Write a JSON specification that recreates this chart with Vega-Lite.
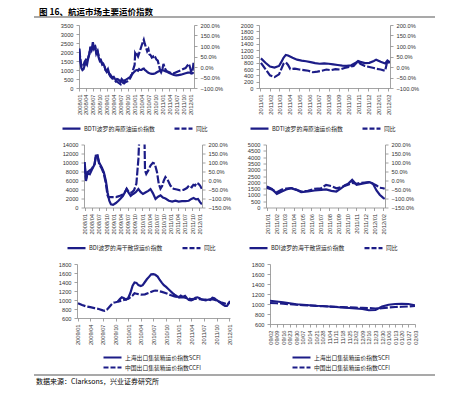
{
"$schema": "https://vega.github.io/schema/vega-lite/v6.json",
"background": "white",
"padding": {"left": 33, "top": 3, "right": 0, "bottom": 0},
"config": {
 "view": {"stroke": null},
 "font": "Liberation Sans",
 "axis": {"labelFont": "Liberation Sans", "labelFontSize": 5.7, "labelColor": "#333333", "domainColor": "#8c8c8c", "domainWidth": 0.8, "tickColor": "#8c8c8c", "tickWidth": 0.8, "tickSize": 3, "labelPadding": 3, "grid": false, "labelOverlap": false, "labelFlush": false},
 "legend": {"layout": {"bottom": {"anchor": "middle"}}}
},
"datasets": {
 "p1v": [{"d":"2008/01/04","v":2200},{"d":"2008/01/18","v":1500},{"d":"2008/02/01","v":1100},{"d":"2008/02/15","v":1000},{"d":"2008/03/01","v":1050},{"d":"2008/03/15","v":1250},{"d":"2008/04/01","v":1400},{"d":"2008/04/15","v":1300},{"d":"2008/05/01","v":1650},{"d":"2008/05/15","v":1900},{"d":"2008/06/01","v":2300},{"d":"2008/06/15","v":2100},{"d":"2008/07/01","v":2550},{"d":"2008/07/15","v":2250},{"d":"2008/08/01","v":2300},{"d":"2008/08/15","v":1900},{"d":"2008/09/01","v":2050},{"d":"2008/09/15","v":1700},{"d":"2008/10/01","v":1500},{"d":"2008/10/15","v":1550},{"d":"2008/11/01","v":1300},{"d":"2008/11/15","v":1350},{"d":"2008/12/01","v":1200},{"d":"2008/12/15","v":1000},{"d":"2009/01/01","v":950},{"d":"2009/01/15","v":1050},{"d":"2009/02/01","v":800},{"d":"2009/02/15","v":750},{"d":"2009/03/01","v":650},{"d":"2009/03/15","v":600},{"d":"2009/04/01","v":620},{"d":"2009/04/15","v":520},{"d":"2009/05/01","v":450},{"d":"2009/05/15","v":500},{"d":"2009/06/01","v":480},{"d":"2009/06/15","v":420},{"d":"2009/07/01","v":350},{"d":"2009/07/15","v":500},{"d":"2009/08/01","v":420},{"d":"2009/08/15","v":380},{"d":"2009/09/01","v":450},{"d":"2009/09/15","v":480},{"d":"2009/10/01","v":520},{"d":"2009/10/15","v":560},{"d":"2009/11/01","v":600},{"d":"2009/11/15","v":700},{"d":"2009/12/01","v":780},{"d":"2009/12/15","v":850},{"d":"2010/01/01","v":920},{"d":"2010/01/15","v":980},{"d":"2010/02/01","v":1000},{"d":"2010/02/15","v":960},{"d":"2010/03/01","v":1050},{"d":"2010/03/15","v":1000},{"d":"2010/04/01","v":1000},{"d":"2010/04/15","v":1060},{"d":"2010/05/01","v":1080},{"d":"2010/05/15","v":1000},{"d":"2010/06/01","v":950},{"d":"2010/06/15","v":900},{"d":"2010/07/01","v":850},{"d":"2010/07/15","v":820},{"d":"2010/08/01","v":800},{"d":"2010/08/15","v":780},{"d":"2010/09/01","v":780},{"d":"2010/09/15","v":800},{"d":"2010/10/01","v":820},{"d":"2010/10/15","v":860},{"d":"2010/11/01","v":900},{"d":"2010/11/15","v":930},{"d":"2010/12/01","v":950},{"d":"2010/12/15","v":980},{"d":"2011/01/01","v":1000},{"d":"2011/01/15","v":970},{"d":"2011/02/01","v":950},{"d":"2011/02/15","v":920},{"d":"2011/03/01","v":900},{"d":"2011/04/01","v":830},{"d":"2011/05/01","v":780},{"d":"2011/06/01","v":720},{"d":"2011/07/01","v":700},{"d":"2011/08/01","v":720},{"d":"2011/09/01","v":740},{"d":"2011/10/01","v":780},{"d":"2011/11/01","v":820},{"d":"2011/12/01","v":850},{"d":"2012/01/01","v":860},{"d":"2012/01/15","v":800},{"d":"2012/02/01","v":820},{"d":"2012/02/15","v":880}],
 "p1p": [{"d":"2008/01/04","p":85},{"d":"2008/01/18","p":40},{"d":"2008/02/01","p":5},{"d":"2008/02/15","p":0},{"d":"2008/03/01","p":10},{"d":"2008/03/15","p":25},{"d":"2008/04/01","p":35},{"d":"2008/04/15","p":30},{"d":"2008/05/01","p":45},{"d":"2008/05/15","p":60},{"d":"2008/06/01","p":95},{"d":"2008/06/15","p":80},{"d":"2008/07/01","p":100},{"d":"2008/07/15","p":85},{"d":"2008/08/01","p":95},{"d":"2008/08/15","p":70},{"d":"2008/09/01","p":75},{"d":"2008/09/15","p":55},{"d":"2008/10/01","p":35},{"d":"2008/10/15","p":30},{"d":"2008/11/01","p":15},{"d":"2008/11/15","p":10},{"d":"2008/12/01","p":5},{"d":"2008/12/15","p":-15},{"d":"2009/01/01","p":-25},{"d":"2009/01/15","p":-20},{"d":"2009/02/01","p":-35},{"d":"2009/02/15","p":-45},{"d":"2009/03/01","p":-50},{"d":"2009/03/15","p":-55},{"d":"2009/04/01","p":-55},{"d":"2009/04/15","p":-62},{"d":"2009/05/01","p":-70},{"d":"2009/05/15","p":-68},{"d":"2009/06/01","p":-75},{"d":"2009/06/15","p":-78},{"d":"2009/07/01","p":-82},{"d":"2009/07/15","p":-70},{"d":"2009/08/01","p":-75},{"d":"2009/08/15","p":-78},{"d":"2009/09/01","p":-72},{"d":"2009/09/15","p":-70},{"d":"2009/10/01","p":-68},{"d":"2009/10/15","p":-65},{"d":"2009/11/01","p":-55},{"d":"2009/11/15","p":-45},{"d":"2009/12/01","p":-30},{"d":"2009/12/15","p":-10},{"d":"2010/01/01","p":10},{"d":"2010/01/08","p":65},{"d":"2010/01/22","p":55},{"d":"2010/02/01","p":60},{"d":"2010/02/15","p":50},{"d":"2010/03/01","p":65},{"d":"2010/03/15","p":80},{"d":"2010/04/01","p":100},{"d":"2010/04/15","p":115},{"d":"2010/05/01","p":130},{"d":"2010/05/15","p":110},{"d":"2010/06/01","p":90},{"d":"2010/06/15","p":75},{"d":"2010/07/01","p":85},{"d":"2010/07/15","p":60},{"d":"2010/08/01","p":55},{"d":"2010/08/15","p":45},{"d":"2010/09/01","p":50},{"d":"2010/09/15","p":40},{"d":"2010/10/01","p":45},{"d":"2010/10/15","p":35},{"d":"2010/11/01","p":30},{"d":"2010/11/15","p":10},{"d":"2010/12/01","p":-15},{"d":"2010/12/15","p":-25},{"d":"2011/01/01","p":-10},{"d":"2011/01/15","p":15},{"d":"2011/02/01","p":-5},{"d":"2011/02/15","p":-15},{"d":"2011/03/01","p":-20},{"d":"2011/04/01","p":-25},{"d":"2011/05/01","p":-30},{"d":"2011/06/01","p":-30},{"d":"2011/07/01","p":-25},{"d":"2011/08/01","p":-20},{"d":"2011/09/01","p":-15},{"d":"2011/10/01","p":-10},{"d":"2011/11/01","p":-5},{"d":"2011/12/01","p":10},{"d":"2011/12/15","p":15},{"d":"2012/01/01","p":-5},{"d":"2012/01/15","p":-25},{"d":"2012/02/01","p":-20},{"d":"2012/02/15","p":25}],
 "p2v": [{"d":"2011/01/03","v":940},{"d":"2011/01/17","v":800},{"d":"2011/01/31","v":680},{"d":"2011/02/14","v":650},{"d":"2011/02/28","v":700},{"d":"2011/03/07","v":820},{"d":"2011/03/14","v":960},{"d":"2011/03/21","v":1050},{"d":"2011/03/28","v":1030},{"d":"2011/04/11","v":960},{"d":"2011/04/25","v":900},{"d":"2011/05/09","v":870},{"d":"2011/05/23","v":850},{"d":"2011/06/06","v":820},{"d":"2011/06/20","v":790},{"d":"2011/07/04","v":770},{"d":"2011/07/18","v":780},{"d":"2011/08/01","v":770},{"d":"2011/08/15","v":750},{"d":"2011/08/29","v":730},{"d":"2011/09/12","v":710},{"d":"2011/09/26","v":700},{"d":"2011/10/10","v":720},{"d":"2011/10/24","v":800},{"d":"2011/10/31","v":860},{"d":"2011/11/07","v":830},{"d":"2011/11/21","v":790},{"d":"2011/12/05","v":800},{"d":"2011/12/19","v":860},{"d":"2011/12/26","v":900},{"d":"2012/01/09","v":830},{"d":"2012/01/23","v":780},{"d":"2012/01/30","v":870},{"d":"2012/02/06","v":820}],
 "p2p": [{"d":"2011/01/03","p":20},{"d":"2011/01/17","p":-10},{"d":"2011/01/31","p":-40},{"d":"2011/02/14","p":-48},{"d":"2011/02/28","p":-35},{"d":"2011/03/07","p":-10},{"d":"2011/03/14","p":15},{"d":"2011/03/21","p":22},{"d":"2011/03/28","p":10},{"d":"2011/04/04","p":-10},{"d":"2011/04/18","p":-8},{"d":"2011/05/02","p":-12},{"d":"2011/05/16","p":-15},{"d":"2011/05/30","p":-18},{"d":"2011/06/13","p":-25},{"d":"2011/06/27","p":-22},{"d":"2011/07/11","p":-18},{"d":"2011/07/25","p":-12},{"d":"2011/08/08","p":-15},{"d":"2011/08/22","p":-10},{"d":"2011/09/05","p":-12},{"d":"2011/09/19","p":-5},{"d":"2011/10/03","p":0},{"d":"2011/10/17","p":5},{"d":"2011/10/31","p":28},{"d":"2011/11/07","p":15},{"d":"2011/11/21","p":5},{"d":"2011/12/05","p":0},{"d":"2011/12/19","p":-5},{"d":"2011/12/26","p":-8},{"d":"2012/01/09","p":-12},{"d":"2012/01/23","p":-18},{"d":"2012/01/30","p":30},{"d":"2012/02/06","p":18}],
 "p3v": [{"d":"2008/01/02","v":10100},{"d":"2008/01/18","v":5900},{"d":"2008/02/08","v":7700},{"d":"2008/03/07","v":7400},{"d":"2008/04/02","v":8400},{"d":"2008/05/07","v":9600},{"d":"2008/05/22","v":11500},{"d":"2008/06/13","v":11600},{"d":"2008/07/04","v":10000},{"d":"2008/08/07","v":8900},{"d":"2008/09/02","v":7800},{"d":"2008/09/28","v":5900},{"d":"2008/10/19","v":3400},{"d":"2008/11/10","v":1500},{"d":"2008/12/01","v":730},{"d":"2008/12/28","v":590},{"d":"2009/02/02","v":1000},{"d":"2009/03/07","v":1500},{"d":"2009/04/04","v":2000},{"d":"2009/05/04","v":2600},{"d":"2009/05/28","v":3400},{"d":"2009/06/19","v":4100},{"d":"2009/07/10","v":3400},{"d":"2009/08/10","v":2600},{"d":"2009/09/09","v":3000},{"d":"2009/10/13","v":3400},{"d":"2009/11/16","v":4100},{"d":"2009/12/16","v":3400},{"d":"2010/01/13","v":3000},{"d":"2010/02/18","v":3400},{"d":"2010/03/22","v":3700},{"d":"2010/04/19","v":4100},{"d":"2010/05/19","v":3200},{"d":"2010/06/22","v":1900},{"d":"2010/07/25","v":2400},{"d":"2010/08/25","v":2700},{"d":"2010/09/24","v":2200},{"d":"2010/10/27","v":2000},{"d":"2010/12/09","v":1500},{"d":"2011/01/21","v":1300},{"d":"2011/03/02","v":1500},{"d":"2011/04/13","v":1300},{"d":"2011/05/25","v":1400},{"d":"2011/07/07","v":1400},{"d":"2011/08/19","v":1500},{"d":"2011/09/22","v":1900},{"d":"2011/10/20","v":2100},{"d":"2011/11/20","v":1800},{"d":"2011/12/15","v":1900},{"d":"2012/01/10","v":1200},{"d":"2012/02/03","v":700}],
 "p3p": [{"d":"2008/01/02","p":83},{"d":"2008/01/18","p":9},{"d":"2008/02/08","p":46},{"d":"2008/03/07","p":56},{"d":"2008/04/02","p":65},{"d":"2008/05/07","p":93},{"d":"2008/05/22","p":130},{"d":"2008/06/13","p":135},{"d":"2008/07/04","p":93},{"d":"2008/08/07","p":65},{"d":"2008/09/02","p":37},{"d":"2008/09/28","p":-18},{"d":"2008/10/19","p":-83},{"d":"2008/10/30","p":-92},{"d":"2008/12/01","p":-92},{"d":"2008/12/28","p":-92},{"d":"2009/02/02","p":-92},{"d":"2009/03/14","p":-87},{"d":"2009/04/25","p":-79},{"d":"2009/05/28","p":-65},{"d":"2009/06/19","p":-46},{"d":"2009/07/17","p":-65},{"d":"2009/08/18","p":-68},{"d":"2009/09/20","p":-55},{"d":"2009/10/21","p":-18},{"d":"2009/11/16","p":120},{"d":"2009/12/03","p":300},{"d":"2010/01/05","p":400},{"d":"2010/01/30","p":300},{"d":"2010/02/08","p":56},{"d":"2010/02/24","p":37},{"d":"2010/03/22","p":56},{"d":"2010/04/19","p":83},{"d":"2010/05/19","p":98},{"d":"2010/06/13","p":93},{"d":"2010/07/11","p":46},{"d":"2010/08/02","p":-18},{"d":"2010/08/24","p":-46},{"d":"2010/09/14","p":-31},{"d":"2010/10/06","p":0},{"d":"2010/10/26","p":19},{"d":"2010/11/28","p":0},{"d":"2010/12/28","p":-28},{"d":"2011/02/07","p":-46},{"d":"2011/03/21","p":-50},{"d":"2011/05/02","p":-55},{"d":"2011/06/13","p":-52},{"d":"2011/07/26","p":-42},{"d":"2011/08/24","p":-28},{"d":"2011/09/26","p":-37},{"d":"2011/10/17","p":-24},{"d":"2011/11/07","p":-28},{"d":"2011/11/28","p":-13},{"d":"2011/12/19","p":-18},{"d":"2012/01/10","p":-28},{"d":"2012/02/01","p":-46}],
 "p4v": [{"d":"2010/12/31","v":1670},{"d":"2011/01/17","v":1480},{"d":"2011/02/03","v":1080},{"d":"2011/02/20","v":1270},{"d":"2011/03/07","v":1430},{"d":"2011/03/24","v":1530},{"d":"2011/04/10","v":1400},{"d":"2011/04/27","v":1220},{"d":"2011/05/20","v":1270},{"d":"2011/06/12","v":1350},{"d":"2011/07/04","v":1400},{"d":"2011/07/21","v":1430},{"d":"2011/08/08","v":1320},{"d":"2011/08/25","v":1270},{"d":"2011/09/11","v":1530},{"d":"2011/09/22","v":1750},{"d":"2011/10/04","v":1880},{"d":"2011/10/18","v":2190},{"d":"2011/11/02","v":1800},{"d":"2011/11/13","v":1860},{"d":"2011/11/30","v":1930},{"d":"2011/12/17","v":2010},{"d":"2011/12/28","v":1880},{"d":"2012/01/09","v":1350},{"d":"2012/01/20","v":1010},{"d":"2012/02/01","v":770},{"d":"2012/02/06","v":690}],
 "p4p": [{"d":"2010/12/31","p":-41},{"d":"2011/01/17","p":-50},{"d":"2011/02/03","p":-65},{"d":"2011/02/20","p":-50},{"d":"2011/03/07","p":-45},{"d":"2011/03/24","p":-42},{"d":"2011/04/10","p":-50},{"d":"2011/04/27","p":-61},{"d":"2011/05/20","p":-57},{"d":"2011/06/12","p":-46},{"d":"2011/07/04","p":-43},{"d":"2011/07/21","p":-24},{"d":"2011/08/08","p":-31},{"d":"2011/08/25","p":-43},{"d":"2011/09/11","p":-37},{"d":"2011/09/22","p":-30},{"d":"2011/10/04","p":-24},{"d":"2011/10/18","p":-13},{"d":"2011/11/02","p":-18},{"d":"2011/11/13","p":-13},{"d":"2011/11/30","p":-11},{"d":"2011/12/17","p":-9},{"d":"2011/12/28","p":-18},{"d":"2012/01/09","p":-28},{"d":"2012/01/20","p":-40},{"d":"2012/02/01","p":-43},{"d":"2012/02/06","p":-46}],
 "p5s": [{"d":"2009/10/16","v":960},{"d":"2009/11/01","v":1020},{"d":"2009/11/15","v":1060},{"d":"2009/12/01","v":1040},{"d":"2009/12/15","v":1010},{"d":"2010/01/01","v":1050},{"d":"2010/01/15","v":1150},{"d":"2010/02/01","v":1320},{"d":"2010/02/15","v":1390},{"d":"2010/03/01","v":1380},{"d":"2010/03/15","v":1330},{"d":"2010/04/01","v":1310},{"d":"2010/04/15","v":1330},{"d":"2010/05/01","v":1400},{"d":"2010/05/15","v":1460},{"d":"2010/06/01","v":1520},{"d":"2010/06/15","v":1570},{"d":"2010/07/01","v":1575},{"d":"2010/07/15","v":1560},{"d":"2010/08/01","v":1520},{"d":"2010/08/15","v":1450},{"d":"2010/09/01","v":1380},{"d":"2010/09/15","v":1330},{"d":"2010/10/01","v":1290},{"d":"2010/10/15","v":1250},{"d":"2010/11/01","v":1200},{"d":"2010/11/15","v":1160},{"d":"2010/12/01","v":1120},{"d":"2010/12/15","v":1090},{"d":"2011/01/01","v":1060},{"d":"2011/01/15","v":1100},{"d":"2011/02/01","v":1070},{"d":"2011/02/15","v":1090},{"d":"2011/03/01","v":1040},{"d":"2011/03/15","v":1000},{"d":"2011/04/01","v":990},{"d":"2011/04/15","v":1010},{"d":"2011/05/01","v":1050},{"d":"2011/05/15","v":1060},{"d":"2011/06/01","v":1040},{"d":"2011/06/15","v":1010},{"d":"2011/07/01","v":1000},{"d":"2011/07/15","v":990},{"d":"2011/08/01","v":1010},{"d":"2011/08/15","v":1000},{"d":"2011/09/01","v":1050},{"d":"2011/09/15","v":1040},{"d":"2011/10/01","v":1000},{"d":"2011/10/15","v":970},{"d":"2011/11/01","v":930},{"d":"2011/11/15","v":900},{"d":"2011/12/01","v":870},{"d":"2011/12/15","v":870},{"d":"2011/12/23","v":900},{"d":"2012/01/06","v":980}],
 "p5c": [{"d":"2009/01/02","v":930},{"d":"2009/02/01","v":890},{"d":"2009/03/01","v":860},{"d":"2009/04/01","v":840},{"d":"2009/05/01","v":820},{"d":"2009/06/01","v":800},{"d":"2009/07/01","v":770},{"d":"2009/07/15","v":760},{"d":"2009/08/01","v":790},{"d":"2009/08/15","v":840},{"d":"2009/09/01","v":900},{"d":"2009/09/15","v":940},{"d":"2009/10/01","v":950},{"d":"2009/10/15","v":960},{"d":"2009/11/01","v":975},{"d":"2009/11/15","v":990},{"d":"2009/12/01","v":1000},{"d":"2009/12/15","v":1010},{"d":"2010/01/01","v":1030},{"d":"2010/01/15","v":1060},{"d":"2010/02/01","v":1100},{"d":"2010/02/15","v":1150},{"d":"2010/03/01","v":1140},{"d":"2010/03/15","v":1130},{"d":"2010/04/01","v":1120},{"d":"2010/05/01","v":1125},{"d":"2010/06/01","v":1160},{"d":"2010/07/01","v":1200},{"d":"2010/07/15","v":1210},{"d":"2010/08/01","v":1205},{"d":"2010/09/01","v":1180},{"d":"2010/10/01","v":1150},{"d":"2010/11/01","v":1110},{"d":"2010/12/01","v":1080},{"d":"2011/01/01","v":1060},{"d":"2011/02/01","v":1060},{"d":"2011/03/01","v":1040},{"d":"2011/04/01","v":1020},{"d":"2011/05/01","v":1025},{"d":"2011/06/01","v":1020},{"d":"2011/07/01","v":1010},{"d":"2011/08/01","v":1010},{"d":"2011/09/01","v":1020},{"d":"2011/10/01","v":990},{"d":"2011/11/01","v":950},{"d":"2011/12/01","v":920},{"d":"2011/12/15","v":900},{"d":"2012/01/06","v":950}],
 "p6s": [{"w":"09/02","v":1065},{"w":"09/09","v":1050},{"w":"09/16","v":1035},{"w":"09/23","v":1015},{"w":"09/30","v":995},{"w":"10/07","v":985},{"w":"10/14","v":975},{"w":"10/21","v":965},{"w":"10/28","v":960},{"w":"11/04","v":950},{"w":"11/11","v":940},{"w":"11/18","v":930},{"w":"11/25","v":920},{"w":"12/02","v":910},{"w":"12/09","v":900},{"w":"12/16","v":875},{"w":"12/23","v":880},{"w":"12/30","v":950},{"w":"01/06","v":985},{"w":"01/13","v":1000},{"w":"01/20","v":1005},{"w":"01/27","v":1000},{"w":"02/03","v":975}],
 "p6c": [{"w":"09/02","v":1020},{"w":"09/09","v":1015},{"w":"09/16","v":1005},{"w":"09/23","v":995},{"w":"09/30","v":985},{"w":"10/07","v":975},{"w":"10/14","v":970},{"w":"10/21","v":962},{"w":"10/28","v":955},{"w":"11/04","v":948},{"w":"11/11","v":942},{"w":"11/18","v":937},{"w":"11/25","v":932},{"w":"12/02","v":927},{"w":"12/09","v":922},{"w":"12/16","v":918},{"w":"12/23","v":910},{"w":"12/30","v":915},{"w":"01/06","v":930},{"w":"01/13","v":940},{"w":"01/20","v":945},{"w":"01/27","v":950},{"w":"02/03","v":960}]
},
"vconcat": [
 {
  "width": 401, "height": 14,
  "data": {"values": [{"t": "图 16、航运市场主要运价指数"}]},
  "layer": [
   {"mark": {"type": "rule", "color": "#8c8c8c", "strokeWidth": 1.6},
    "encoding": {"x": {"datum": 0, "type": "quantitative", "scale": {"domain": [0, 1]}, "axis": null}, "x2": {"datum": 1}, "y": {"datum": 0, "type": "quantitative", "scale": {"domain": [0, 1]}, "axis": null}}},
   {"mark": {"type": "text", "align": "left", "baseline": "middle", "dx": 5, "font": "Noto Sans CJK SC", "fontSize": 8.5, "fontWeight": "bold", "color": "#000000"},
    "encoding": {"x": {"datum": 0, "type": "quantitative"}, "y": {"datum": 0.35, "type": "quantitative"}, "text": {"field": "t"}}}
  ]
 },
 {
  "vconcat": [
   {
    "vconcat": [
     {
      "hconcat": [
       {"width": 9, "height": 10, "data": {"values": []}, "mark": "point"},
       {
        "width": 115, "height": 63,
        "layer": [
         {"data": {"name": "p1v"}, "mark": {"type": "line", "strokeWidth": 2.2, "clip": true},
          "encoding": {
           "x": {"field": "d", "type": "temporal", "scale": {"domain": [{"year": 2008, "month": 1, "date": 1}, {"year": 2012, "month": 2, "date": 20}]}, "axis": {"title": null, "tickCount": {"interval": "month", "step": 3}, "format": "%Y/%m", "labelAngle": 270, "labelOverlap": false}},
           "y": {"field": "v", "type": "quantitative", "scale": {"domain": [0, 3500]}, "axis": {"title": null, "format": "d", "labelOverlap": false, "values": [0, 500, 1000, 1500, 2000, 2500, 3000, 3500]}},
           "color": {"datum": "BDTI波罗的海原油运价指数", "type": "nominal", "scale": {"domain": ["BDTI波罗的海原油运价指数", "同比"], "range": ["#1c1c87", "#1c1c87"]},
            "legend": {"title": null, "orient": "bottom", "direction": "horizontal", "offset": 8, "symbolType": "M-2.25,0H2.25", "symbolSize": 64, "symbolStrokeWidth": 2.2, "labelFont": "Noto Sans CJK SC", "labelFontSize": 5.8, "labelColor": "#222222", "labelOffset": 7, "columnPadding": 15, "rowPadding": 0,
             "encode": {"symbols": {"update": {"strokeDash": {"signal": "datum.value === '同比' ? [5,2] : [1,0]"}}}}}}
          }},
         {"data": {"name": "p1p"}, "mark": {"type": "line", "strokeWidth": 2.2, "strokeDash": [8, 2], "clip": true},
          "encoding": {
           "x": {"field": "d", "type": "temporal"},
           "y": {"field": "p", "type": "quantitative", "scale": {"domain": [-100, 200]}, "axis": {"title": null, "orient": "right", "labelOverlap": false, "values": [-100, -50, 0, 50, 100, 150, 200], "labelExpr": "format(datum.value, '.1f') + '%'"}},
           "color": {"datum": "同比", "type": "nominal"}
          }}
        ],
        "resolve": {"scale": {"y": "independent"}}
       },
       {
        "width": 131, "height": 63,
        "layer": [
         {"data": {"name": "p2v"}, "mark": {"type": "line", "strokeWidth": 2.2, "clip": true},
          "encoding": {
           "x": {"field": "d", "type": "temporal", "scale": {"domain": [{"year": 2010, "month": 12, "date": 28}, {"year": 2012, "month": 2, "date": 7}]}, "axis": {"title": null, "tickCount": {"interval": "month", "step": 1}, "format": "%Y/%m", "labelAngle": 270, "labelOverlap": false}},
           "y": {"field": "v", "type": "quantitative", "scale": {"domain": [0, 2000]}, "axis": {"title": null, "format": "d", "labelOverlap": false, "values": [0, 200, 400, 600, 800, 1000, 1200, 1400, 1600, 1800, 2000]}},
           "color": {"datum": "BDTI波罗的海原油运价指数", "type": "nominal", "scale": {"domain": ["BDTI波罗的海原油运价指数", "同比"], "range": ["#1c1c87", "#1c1c87"]},
            "legend": {"title": null, "orient": "bottom", "direction": "horizontal", "offset": 8, "symbolType": "M-2.25,0H2.25", "symbolSize": 64, "symbolStrokeWidth": 2.2, "labelFont": "Noto Sans CJK SC", "labelFontSize": 5.8, "labelColor": "#222222", "labelOffset": 7, "columnPadding": 15, "rowPadding": 0,
             "encode": {"symbols": {"update": {"strokeDash": {"signal": "datum.value === '同比' ? [5,2] : [1,0]"}}}}}}
          }},
         {"data": {"name": "p2p"}, "mark": {"type": "line", "strokeWidth": 2.2, "strokeDash": [8, 2], "clip": true},
          "encoding": {
           "x": {"field": "d", "type": "temporal"},
           "y": {"field": "p", "type": "quantitative", "scale": {"domain": [-100, 200]}, "axis": {"title": null, "orient": "right", "labelOverlap": false, "values": [-100, -50, 0, 50, 100, 150, 200], "labelExpr": "format(datum.value, '.1f') + '%'"}},
           "color": {"datum": "同比", "type": "nominal"}
          }}
        ],
        "resolve": {"scale": {"y": "independent"}}
       }
      ],
      "spacing": 17,
      "resolve": {"scale": {"color": "independent"}, "legend": {"color": "independent"}}
     },
     {
      "hconcat": [
       {"width": 12, "height": 10, "data": {"values": []}, "mark": "point"},
       {
        "width": 118, "height": 63,
        "layer": [
         {"data": {"name": "p3v"}, "mark": {"type": "line", "strokeWidth": 2.2, "clip": true},
          "encoding": {
           "x": {"field": "d", "type": "temporal", "scale": {"domain": [{"year": 2007, "month": 12, "date": 24}, {"year": 2012, "month": 2, "date": 4}]}, "axis": {"title": null, "tickCount": {"interval": "month", "step": 3}, "format": "%Y/%m", "labelAngle": 270, "labelOverlap": false}},
           "y": {"field": "v", "type": "quantitative", "scale": {"domain": [0, 14000]}, "axis": {"title": null, "format": "d", "labelOverlap": false, "values": [0, 2000, 4000, 6000, 8000, 10000, 12000, 14000]}},
           "color": {"datum": "BDI波罗的海干散货运价指数", "type": "nominal", "scale": {"domain": ["BDI波罗的海干散货运价指数", "同比"], "range": ["#1c1c87", "#1c1c87"]},
            "legend": {"title": null, "orient": "bottom", "direction": "horizontal", "offset": 8, "symbolType": "M-2.25,0H2.25", "symbolSize": 64, "symbolStrokeWidth": 2.2, "labelFont": "Noto Sans CJK SC", "labelFontSize": 5.8, "labelColor": "#222222", "labelOffset": 7, "columnPadding": 15, "rowPadding": 0,
             "encode": {"symbols": {"update": {"strokeDash": {"signal": "datum.value === '同比' ? [5,2] : [1,0]"}}}}}}
          }},
         {"data": {"name": "p3p"}, "mark": {"type": "line", "strokeWidth": 2.2, "strokeDash": [8, 2], "clip": true},
          "encoding": {
           "x": {"field": "d", "type": "temporal"},
           "y": {"field": "p", "type": "quantitative", "scale": {"domain": [-150, 200]}, "axis": {"title": null, "orient": "right", "labelOverlap": false, "values": [-150, -100, -50, 0, 50, 100, 150, 200], "labelExpr": "format(datum.value, '.1f') + '%'"}},
           "color": {"datum": "同比", "type": "nominal"}
          }}
        ],
        "resolve": {"scale": {"y": "independent"}}
       },
       {
        "width": 119, "height": 63,
        "layer": [
         {"data": {"name": "p4v"}, "mark": {"type": "line", "strokeWidth": 2.2, "clip": true},
          "encoding": {
           "x": {"field": "d", "type": "temporal", "scale": {"domain": [{"year": 2010, "month": 12, "date": 28}, {"year": 2012, "month": 2, "date": 7}]}, "axis": {"title": null, "tickCount": {"interval": "month", "step": 1}, "format": "%Y/%m", "labelAngle": 270, "labelOverlap": false}},
           "y": {"field": "v", "type": "quantitative", "scale": {"domain": [0, 5000]}, "axis": {"title": null, "format": "d", "labelOverlap": false, "values": [0, 500, 1000, 1500, 2000, 2500, 3000, 3500, 4000, 4500, 5000]}},
           "color": {"datum": "BDI波罗的海干散货运价指数", "type": "nominal", "scale": {"domain": ["BDI波罗的海干散货运价指数", "同比"], "range": ["#1c1c87", "#1c1c87"]},
            "legend": {"title": null, "orient": "bottom", "direction": "horizontal", "offset": 8, "symbolType": "M-2.25,0H2.25", "symbolSize": 64, "symbolStrokeWidth": 2.2, "labelFont": "Noto Sans CJK SC", "labelFontSize": 5.8, "labelColor": "#222222", "labelOffset": 7, "columnPadding": 15, "rowPadding": 0,
             "encode": {"symbols": {"update": {"strokeDash": {"signal": "datum.value === '同比' ? [5,2] : [1,0]"}}}}}}
          }},
         {"data": {"name": "p4p"}, "mark": {"type": "line", "strokeWidth": 2.2, "strokeDash": [8, 2], "clip": true},
          "encoding": {
           "x": {"field": "d", "type": "temporal"},
           "y": {"field": "p", "type": "quantitative", "scale": {"domain": [-150, 200]}, "axis": {"title": null, "orient": "right", "labelOverlap": false, "values": [-150, -100, -50, 0, 50, 100, 150, 200], "labelExpr": "format(datum.value, '.1f') + '%'"}},
           "color": {"datum": "同比", "type": "nominal"}
          }}
        ],
        "resolve": {"scale": {"y": "independent"}}
       }
      ],
      "spacing": 16,
      "resolve": {"scale": {"color": "independent"}, "legend": {"color": "independent"}}
     },
     {
      "hconcat": [
       {"width": 6, "height": 10, "data": {"values": []}, "mark": "point"},
       {
        "width": 153, "height": 54,
        "layer": [
         {"data": {"name": "p5s"}, "mark": {"type": "line", "strokeWidth": 2.2, "clip": true},
          "encoding": {
           "x": {"field": "d", "type": "temporal", "scale": {"domain": [{"year": 2008, "month": 12, "date": 26}, {"year": 2012, "month": 1, "date": 6}]}, "axis": {"title": null, "tickCount": {"interval": "month", "step": 3}, "format": "%Y/%m", "labelAngle": 270, "labelOverlap": false}},
           "y": {"field": "v", "type": "quantitative", "scale": {"domain": [600, 1800]}, "axis": {"title": null, "format": "d", "labelOverlap": false, "values": [600, 800, 1000, 1200, 1400, 1600, 1800]}},
           "color": {"datum": "上海出口集装箱运价指数SCFI", "type": "nominal", "scale": {"domain": ["上海出口集装箱运价指数SCFI", "中国出口集装箱运价指数CCFI"], "range": ["#1c1c87", "#1c1c87"]},
            "legend": {"title": null, "orient": "bottom", "direction": "vertical", "offset": 7, "symbolType": "M-2.25,0H2.25", "symbolSize": 64, "symbolStrokeWidth": 2.2, "labelFont": "Noto Sans CJK SC", "labelFontSize": 5.8, "labelColor": "#222222", "labelOffset": 7, "columnPadding": 15, "rowPadding": 0,
             "encode": {"symbols": {"update": {"strokeDash": {"signal": "indexof(datum.value, 'CCFI') >= 0 ? [5,2] : [1,0]"}}}}}}
          }},
         {"data": {"name": "p5c"}, "mark": {"type": "line", "strokeWidth": 2.2, "strokeDash": [8, 2], "clip": true},
          "encoding": {
           "x": {"field": "d", "type": "temporal"},
           "y": {"field": "v", "type": "quantitative", "axis": {"title": null, "format": "d", "labelOverlap": false, "values": [600, 800, 1000, 1200, 1400, 1600, 1800]}},
           "color": {"datum": "中国出口集装箱运价指数CCFI", "type": "nominal"}
          }}
        ]
       },
       {
        "width": 145, "height": 60,
        "layer": [
         {"data": {"name": "p6s"}, "mark": {"type": "line", "strokeWidth": 2.2, "clip": true},
          "encoding": {
           "x": {"field": "w", "type": "ordinal", "scale": {"type": "point", "padding": 0, "domain": ["09/02","09/09","09/16","09/23","09/30","10/07","10/14","10/21","10/28","11/04","11/11","11/18","11/25","12/02","12/09","12/16","12/23","12/30","01/06","01/13","01/20","01/27","02/03"]}, "axis": {"title": null, "labelAngle": 270, "labelOverlap": false}},
           "y": {"field": "v", "type": "quantitative", "scale": {"domain": [600, 1800]}, "axis": {"title": null, "format": "d", "labelOverlap": false, "values": [600, 800, 1000, 1200, 1400, 1600, 1800]}},
           "color": {"datum": "上海出口集装箱运价指数SCFI", "type": "nominal", "scale": {"domain": ["上海出口集装箱运价指数SCFI", "中国出口集装箱运价指数CCFI"], "range": ["#1c1c87", "#1c1c87"]},
            "legend": {"title": null, "orient": "bottom", "direction": "vertical", "offset": 7, "symbolType": "M-2.25,0H2.25", "symbolSize": 64, "symbolStrokeWidth": 2.2, "labelFont": "Noto Sans CJK SC", "labelFontSize": 5.8, "labelColor": "#222222", "labelOffset": 7, "columnPadding": 15, "rowPadding": 0,
             "encode": {"symbols": {"update": {"strokeDash": {"signal": "indexof(datum.value, 'CCFI') >= 0 ? [5,2] : [1,0]"}}}}}}
          }},
         {"data": {"name": "p6c"}, "mark": {"type": "line", "strokeWidth": 2.2, "strokeDash": [8, 2], "clip": true},
          "encoding": {
           "x": {"field": "w", "type": "ordinal"},
           "y": {"field": "v", "type": "quantitative", "axis": {"title": null, "format": "d", "labelOverlap": false, "values": [600, 800, 1000, 1200, 1400, 1600, 1800]}},
           "color": {"datum": "中国出口集装箱运价指数CCFI", "type": "nominal"}
          }}
        ]
       }
      ],
      "spacing": 18,
      "resolve": {"scale": {"color": "independent"}, "legend": {"color": "independent"}}
     }
    ],
    "spacing": 8.5,
    "resolve": {"scale": {"color": "independent"}, "legend": {"color": "independent"}}
   },
   {
    "width": 401, "height": 12,
    "data": {"values": [{"t": "数据来源：Clarksons，兴业证券研究所"}]},
    "layer": [
     {"mark": {"type": "rule", "color": "#8c8c8c", "strokeWidth": 1.6},
      "encoding": {"x": {"datum": 0, "type": "quantitative", "scale": {"domain": [0, 1]}, "axis": null}, "x2": {"datum": 1}, "y": {"datum": 1, "type": "quantitative", "scale": {"domain": [0, 1]}, "axis": null}}},
     {"mark": {"type": "text", "align": "left", "baseline": "middle", "dx": 2, "font": "Noto Sans CJK SC", "fontSize": 7, "color": "#000000"},
      "encoding": {"x": {"datum": 0, "type": "quantitative"}, "y": {"datum": 0.45, "type": "quantitative"}, "text": {"field": "t"}}}
    ]
   }
  ],
  "spacing": 2,
  "resolve": {"scale": {"color": "independent"}, "legend": {"color": "independent"}}
 }
],
"spacing": 4,
"resolve": {"scale": {"color": "independent"}, "legend": {"color": "independent"}}
}
